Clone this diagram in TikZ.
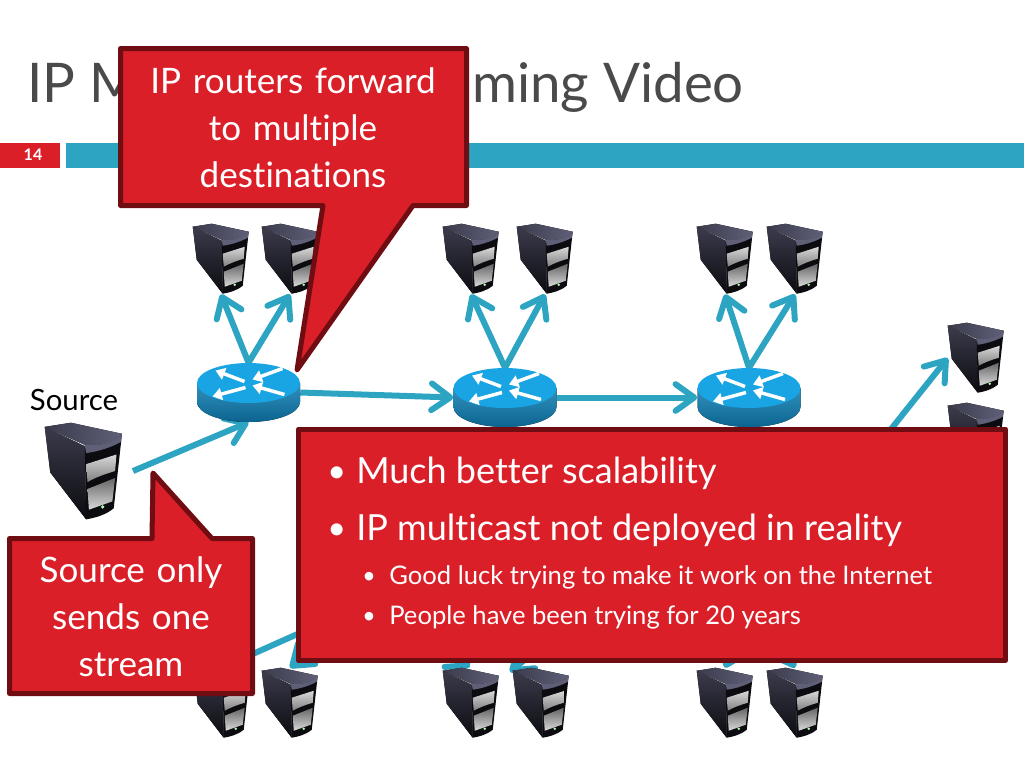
\documentclass[tikz,border=0pt]{standalone}
\usepackage{fontspec}
\setmainfont{Lato}[Ligatures=NoCommon]
\usetikzlibrary{arrows.meta}
\definecolor{slidered}{HTML}{DA1F28}
\definecolor{darkred}{HTML}{6F0D12}
\definecolor{barteal}{HTML}{2CA4C2}
\definecolor{titlegray}{HTML}{4A4A4A}
\definecolor{routertop}{HTML}{19A5E3}
\definecolor{routerside}{HTML}{0E7DB3}
\definecolor{serverlight}{HTML}{5F5F78}
\definecolor{servermid}{HTML}{3B3B4C}
\definecolor{serverdark}{HTML}{0B0B10}
\newcommand{\pxfont}[1]{\fontsize{#1}{#1}\selectfont}
\newcommand{\listdot}[1]{\makebox[#1][l]{\raisebox{.02em}{\scalebox{.9}{•}}}}
\tikzset{
	server/.pic = {
		\fill[top color=servermid,bottom color=serverdark] (0,3) -- (29,17) -- (30,70) -- (4,36) -- cycle;
		\fill[serverdark] (29,16) .. controls (40,17) and (50,15) .. (56,8) -- (50,62) .. controls (44,67) and (36,69) .. (30,70) -- cycle;
		\fill[left color=servermid,right color=serverlight] (0,3) -- (19,0) -- (56,8) .. controls (50,15) and (40,17) .. (29,16) -- cycle;
		\fill[serverlight] (29,16) .. controls (40,17) and (50,15) .. (56,8) -- (55,14) .. controls (48,18) and (38,21) .. (30,22) -- cycle;
		\fill[top color=white!85!black,bottom color=black!50] (30,30) -- (52,23) -- (51,35) .. controls (44,37) and (36,40) .. (31,43) -- cycle;
		\fill[top color=black!60,bottom color=black!15] (31,48) -- (51,40) -- (49,57) -- (32,63) -- cycle;
		\fill[white!70!green] (42,61) circle (1.3);
	},
	router/.pic = {
		\fill[top color=routerside!85!white,bottom color=routerside!80!black] (-51.5,-9.5) -- (-51.5,9.5) arc[start angle=180,end angle=0,x radius=51.5,y radius=20] -- (51.5,-9.5) -- cycle;
		\fill[routertop] (0,-9.5) ellipse[x radius=51.5,y radius=20];
		\draw[white,line width=2.6pt,-{Triangle[length=7pt,width=9pt]}] (-4,-11) -- (-33,-22);
		\draw[white,line width=2.6pt,-{Triangle[length=7pt,width=9pt]}] (-3,-5) -- (-36,4);
		\draw[white,line width=2.6pt,-{Triangle[length=7pt,width=9pt]}] (34,-24) -- (4,-13);
		\draw[white,line width=2.6pt,-{Triangle[length=7pt,width=9pt]}] (36,2) -- (4,-7);
	},
	serverbox/.style = {minimum width=42pt,minimum height=52.5pt,inner sep=0pt},
	routerbox/.style = {minimum width=77.25pt,minimum height=44.25pt,inner sep=0pt},
	flow/.style = {draw=barteal,line width=4.5pt,-{Straight Barb[length=14pt,width=20pt,round]}},
	callout/.style = {draw=darkred,fill=slidered,line width=3.75pt,line join=round},
	calltext/.style = {text=white,align=center,font=\pxfont{26.3}},
	listhead/.style = {text=white,anchor=base west,inner sep=0pt,font=\pxfont{27}},
	listsub/.style = {text=white,anchor=base west,inner sep=0pt,font=\pxfont{19.2}},
}
\begin{document}
\begin{tikzpicture}[x=.75pt,y=-.75pt]

	\useasboundingbox (0,0) rectangle (1024,768);

	\node[anchor=base west,inner sep=0pt,text=titlegray,font=\pxfont{41}] (titleleft) at (27,102) {IP M};
	\node[anchor=base west,inner sep=0pt,text=titlegray,font=\pxfont{41}] (titleright) at (472,102) {ming Video};

	\fill[slidered] (0,143) rectangle (60,168);
	\fill[barteal] (66,143) rectangle (1024,168);
	\node[text=white,font=\pxfont{12}\bfseries] (pagenum) at (33,155) {14};

	\foreach \name/\x/\y in {a1/221/259,a2/290/259,b1/471/259,b2/545/259,c1/725/259,c2/795/259,d1/976/358,d2/976/438,e1/222/703,e2/290/703,f1/471/703,f2/541/703,g1/725/703,g2/795/703}
		\node[serverbox] (\name) at (\x,\y) {};
	\node[minimum width=57.75pt,minimum height=72.75pt,inner sep=0pt] (source) at (83.5,471.5) {};
	\node[routerbox] (r1) at (248.5,392.5) {};
	\node[routerbox] (r2) at (505,397.5) {};
	\node[routerbox] (r3) at (749,397.5) {};
	\coordinate (sourceout) at (133,471);
	\coordinate (hubright) at (860,468);
	\coordinate (hubleft) at (367,603);
	\coordinate (hubmid) at (610,588);
	\coordinate (hubend) at (755,600);
	\coordinate (tipf1) at (470,667);
	\coordinate (tipf2) at (510,672);

	\draw[flow] (sourceout) -- (r1.south);
	\draw[flow] (r1.east) -- (r2.west);
	\draw[flow] (r2.east) -- (r3.west);
	\draw[flow] (r1.north) -- (a1.south);
	\draw[flow] (r1.north) -- (a2.south);
	\draw[flow] (r2.north) -- (b1.south);
	\draw[flow] (r2.north) -- (b2.south);
	\draw[flow] (r3.north) -- (c1.south);
	\draw[flow] (r3.north) -- (c2.south);
	\draw[flow] (hubright) -- (d1.west);
	\draw[flow] (hubleft) -- (e1.north);
	\draw[flow] (hubleft) -- (e2.north);
	\draw[flow] (hubleft) -- (tipf1);
	\draw[flow] (hubmid) -- (tipf2);
	\draw[flow] (hubend) -- (g1.north);
	\draw[flow] (hubend) -- (g2.north);

	\foreach \name in {a1,a2,b1,b2,c1,c2,d1,d2,e1,e2,f1,f2,g1,g2}
		\pic at (\name.north west) {server};
	\pic[scale=1.38] at (source.north west) {server};
	\foreach \name in {r1,r2,r3}
		\pic at (\name) {router};

	\node[text=black,font=\pxfont{22}] (sourcelabel) at (74,400) {Source};

	\draw[callout] (120.5,48.5) -- (466.5,48.5) -- (466.5,205.5) -- (413,205.5) -- (297,370) -- (323,205.5) -- (120.5,205.5) -- cycle;
	\node[calltext,text width=330*.75pt] (routertext) at (293,127.5) {IP routers forward\\[9pt]to multiple\\[9pt]destinations};

	\draw[callout] (9.5,538.5) -- (152,538.5) -- (153,473) -- (212,538.5) -- (252.5,538.5) -- (252.5,693.5) -- (9.5,693.5) -- cycle;
	\node[calltext,text width=230*.75pt] (sourcetext) at (131,617) {Source only\\[9pt]sends one\\[9pt]stream};

	\draw[callout] (298.5,429) -- (1005.5,429) -- (1005.5,660.5) -- (298.5,660.5) -- cycle;
	\node[listhead] (pointa) at (327,483) {\listdot{21.75pt}Much better scalability};
	\node[listhead] (pointb) at (327,540) {\listdot{21.75pt}IP multicast not deployed in reality};
	\node[listsub] (pointc) at (362,584) {\listdot{20.25pt}Good luck trying to make it work on the Internet};
	\node[listsub] (pointd) at (362,624) {\listdot{20.25pt}People have been trying for 20 years};

\end{tikzpicture}
\end{document}
